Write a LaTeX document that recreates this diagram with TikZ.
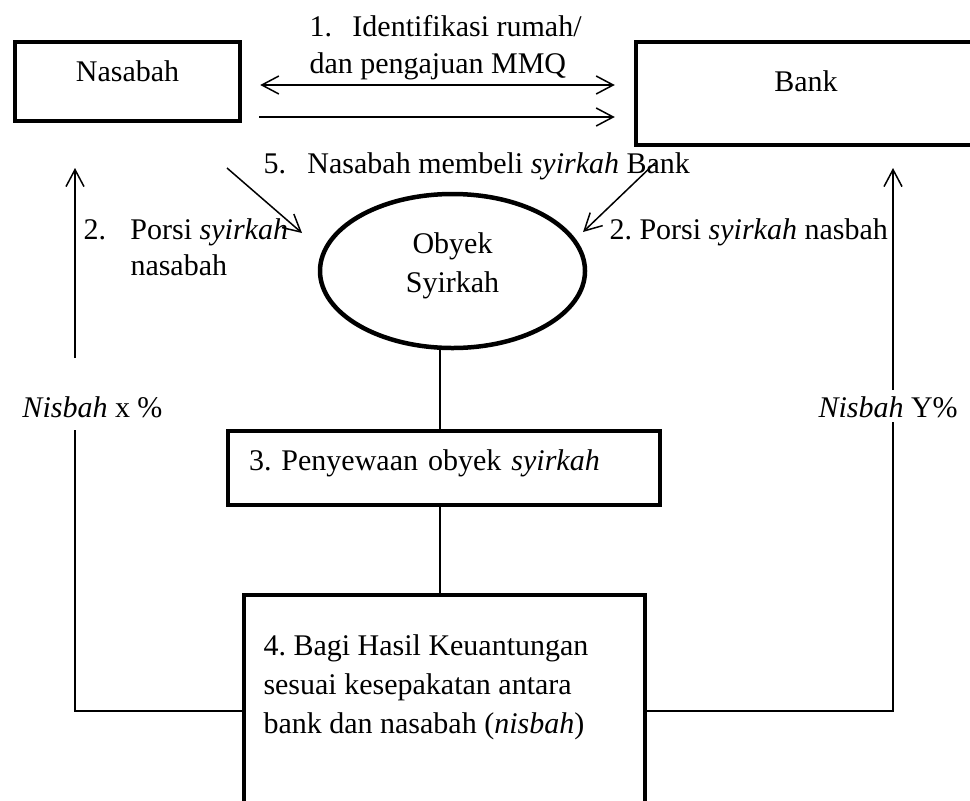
\documentclass[tikz,border=0pt]{standalone}
\usepackage{fontspec}
\setmainfont{Liberation Serif}
\frenchspacing
\usetikzlibrary{arrows.meta,shapes.geometric}
\begin{document}
\begin{tikzpicture}[x=0.4pt,y=-0.4pt,
  font=\fontsize{12}{15.6}\selectfont,
  >={Straight Barb[length=6.8pt,width=7.2pt]},
  line/.style={line width=0.6pt},
  box/.style={draw,line width=1.8pt,inner sep=0pt},
  txt/.style={inner sep=0pt}]
  \path[use as bounding box,clip] (0,0) rectangle (970,800);

  \node[box,minimum width=90pt,minimum height=31.6pt,text depth=8.6pt] (nas) at (127.5,81.5) {Nasabah};
  \node[box,minimum width=136pt,minimum height=41.2pt,text depth=10.2pt] (bank) at (806,93.5) {Bank};
  \node[box,ellipse,minimum width=106pt,minimum height=61.6pt,align=center,text depth=7pt] (obyek) at (452.5,271) {Obyek\\Syirkah};
  \node[box,minimum width=172.8pt,minimum height=29.6pt,text width=156pt,inner xsep=8.4pt,align=left,text depth=6.6pt] (sewa) at (444,468) {3. Penyewaan obyek \textit{syirkah}};
  \node[box,minimum width=160.4pt,minimum height=92.8pt] (bagi) at (444.5,711) {};
  \node[txt,anchor=north west,align=left] (bagitxt) at (263,634.5) {4. Bagi Hasil Keuantungan\\sesuai kesepakatan antara\\bank dan nasabah (\textit{nisbah})};

  \node[txt,anchor=north west,align=left,font=\fontsize{12}{14.8}\selectfont] (ident) at (309,14.5) {1.\hspace{8.2pt}Identifikasi rumah/\\dan pengajuan MMQ};
  \node[txt,anchor=base west] (beli) at (263,173) {5.\hspace{8.6pt}Nasabah membeli \textit{syirkah} Bank};
  \node[txt,anchor=north west,font=\fontsize{12}{14.4}\selectfont] (porsinas) at (83,213.8) {\begin{tabular}{@{}l@{\hspace{9.8pt}}l@{}}2. & Porsi \textit{syirkah}\\ & nasabah\end{tabular}};
  \node[txt,anchor=base west] (porsibank) at (609,239) {2. Porsi \textit{syirkah} nasbah};
  \node[txt,anchor=base west] (nisnas) at (22,417) {\textit{Nisbah} x \%};
  \node[txt,anchor=base west] (nisbank) at (818,417) {\textit{Nisbah} Y\%};

  \coordinate (y1) at (0,85);
  \coordinate (y2) at (0,117);
  \coordinate (mx) at (440,0);
  \coordinate (lt) at (75,168);
  \coordinate (lb) at (75,358);
  \coordinate (lc) at (75,430);
  \coordinate (rt) at (893,168);
  \coordinate (rb) at (893,390);
  \coordinate (rc) at (893,422);
  \coordinate (dl) at (227,168);
  \coordinate (dle) at (302,233);
  \coordinate (dr) at (655,163);
  \coordinate (dre) at (583,232);

  \draw[line,<->,shorten <=7.2pt,shorten >=7.6pt] (nas.east |- y1) -- (bank.west |- y1);
  \draw[line,->,shorten <=6.8pt,shorten >=7.6pt] (nas.east |- y2) -- (bank.west |- y2);
  \draw[line,->] (dl) -- (dle);
  \draw[line,->] (dr) -- (dre);
  \draw[line,->] (lb) -- (lt);
  \draw[line,->] (rb) -- (rt);
  \draw[line] (lc) |- (bagi.west);
  \draw[line] (rc) |- (bagi.east);
  \draw[line] (obyek.south -| mx) -- (sewa.north -| mx);
  \draw[line] (sewa.south -| mx) -- (bagi.north -| mx);
\end{tikzpicture}
\end{document}
